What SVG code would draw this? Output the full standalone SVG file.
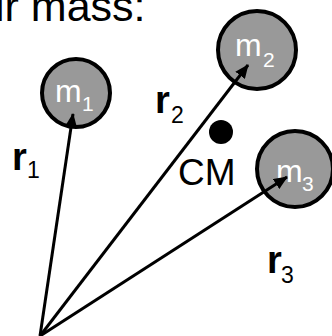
<svg xmlns="http://www.w3.org/2000/svg" width="332" height="336" viewBox="0 0 332 336">
<style>
.mass{fill:#999999;stroke:#000;stroke-width:4}
.ml{font-family:"Liberation Sans",Arial,sans-serif;fill:#fff;font-size:32px}
.ms{font-family:"Liberation Sans",Arial,sans-serif;fill:#fff;font-size:21px}
.rl{font-family:"Liberation Sans",Arial,sans-serif;fill:#000;font-size:38px;font-weight:bold}
.rs{font-family:"Liberation Sans",Arial,sans-serif;fill:#000;font-size:23px}
.txt{font-family:"Liberation Sans",Arial,sans-serif;fill:#000}
.vec{stroke:#000;stroke-width:3;fill:none;marker-end:url(#ah)}
</style>
<defs>
<marker id="ah" markerUnits="userSpaceOnUse" viewBox="0 0 14 12" refX="13" refY="6" markerWidth="14" markerHeight="12" orient="auto">
<path d="M0,0 L14,6 L0,12 Z" fill="#000"/>
</marker>
</defs>
<text class="txt" x="-5" y="21" font-size="43">ir mass:</text>
<g id="m1"><circle class="mass" cx="76" cy="93" r="34"/><text class="ml" x="55" y="102">m</text><text class="ms" x="82" y="111">1</text></g>
<g id="m2"><circle class="mass" cx="257" cy="50" r="39"/><text class="ml" x="235" y="56">m</text><text class="ms" x="263" y="67">2</text></g>
<g id="m3"><circle class="mass" cx="295" cy="169" r="38"/><text class="ml" x="276" y="182">m</text><text class="ms" x="302" y="191">3</text></g>
<g id="cm"><circle cx="221" cy="132" r="12" fill="#000"/><text class="txt" x="178" y="185" font-size="37">CM</text></g>
<g id="connectors">
<line class="vec" x1="40" y1="336" x2="73" y2="114"/>
<line class="vec" x1="40" y1="336" x2="248" y2="65"/>
<line class="vec" x1="40" y1="336" x2="287" y2="177"/>
</g>
<g id="labels">
<text class="rl" x="12" y="170">r</text><text class="rs" x="27" y="178">1</text>
<text class="rl" x="155" y="113">r</text><text class="rs" x="171" y="123">2</text>
<text class="rl" x="267" y="273">r</text><text class="rs" x="281" y="283">3</text>
</g>
</svg>
